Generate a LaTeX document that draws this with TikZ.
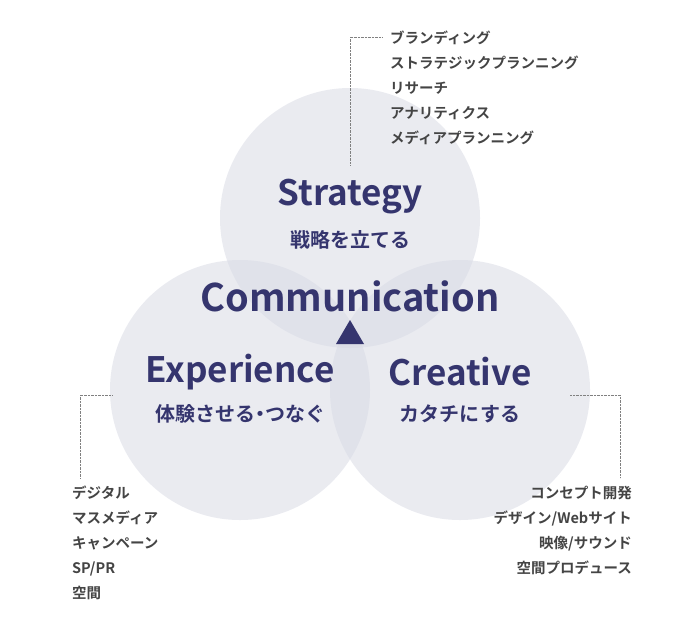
\documentclass[tikz,border=0pt]{standalone}
\usepackage{fontspec}
\setmainfont{Noto Sans CJK JP}[BoldFont={* Bold}]
\usetikzlibrary{positioning}
\definecolor{navy}{HTML}{35356E}
\definecolor{disc}{HTML}{D8DAE4}
\definecolor{txtgray}{HTML}{444444}
\tikzset{
  area/.style={circle, minimum size=260pt, fill=disc, fill opacity=0.55, inner sep=0pt},
  title/.style={text=navy, font=\bfseries\fontsize{35}{38}\selectfont},
  sub/.style={text=navy, font=\bfseries\fontsize{20}{22}\selectfont},
  list/.style={text=txtgray, font=\bfseries\fontsize{14.5}{25}\selectfont, inner sep=0pt},
  guide/.style={densely dotted, gray, thin}
}
\begin{document}
\begin{tikzpicture}[x=1pt, y=-1pt]
  \useasboundingbox (0,0) rectangle (700,630);
  % circles
  \node[area] (top) at (350,218) {};
  \node[area] (left) at (240,390) {};
  \node[area] (right) at (460,390) {};
  % titles
  \node[title] (strategy) at (350,197) {Strategy};
  \node[sub] (strategysub) at (350,240) {戦略を立てる};
  \node[title, font=\bfseries\fontsize{38}{40}\selectfont] (comm) at (350,296) {Communication};
  \node[title] (experience) at (240,372) {Experience};
  \node[sub] (experiencesub) at (240,414) {体験させる{\kern-0.25em}・{\kern-0.25em}つなぐ};
  \node[title] (creative) at (460,372) {Creative};
  \node[sub] (creativesub) at (460,414) {カタチにする};
  \fill[navy] (336,344) -- (364,344) -- (350,320) -- cycle;
  % lists
  \node[list, align=left, anchor=north west] (toplist) at (390,31)
    {ブランディング\\ストラテジックプランニング\\リサーチ\\アナリティクス\\メディアプランニング};
  \node[list, align=left, anchor=north west] (leftlist) at (72,486)
    {デジタル\\マスメディア\\キャンペーン\\SP/PR\\空間};
  \node[list, align=right, anchor=north east] (rightlist) at (632,486)
    {コンセプト開発\\デザイン/Webサイト\\映像/サウンド\\空間プロデュース};
  % guides
  \coordinate (ta) at (350,165);
  \coordinate (tb) at (350,37);
  \coordinate (tc) at (382,37);
  \draw[guide] (ta) -- (tb) -- (tc);
  \coordinate (la) at (112,395);
  \coordinate (lb) at (80,395);
  \coordinate (lc) at (80,478);
  \draw[guide] (la) -- (lb) -- (lc);
  \coordinate (ra) at (570,395);
  \coordinate (rb) at (620,395);
  \coordinate (rc) at (620,478);
  \draw[guide] (ra) -- (rb) -- (rc);
\end{tikzpicture}
\end{document}
